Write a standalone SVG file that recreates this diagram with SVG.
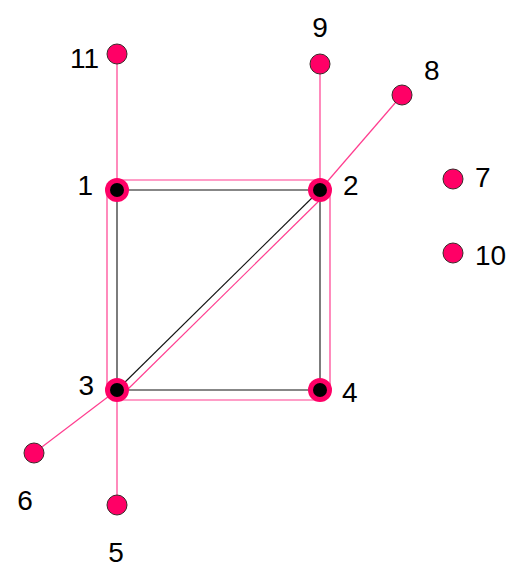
<svg xmlns="http://www.w3.org/2000/svg" width="508" height="569" viewBox="0 0 508 569">
<style>
.bl{stroke:#111;stroke-width:1.1;fill:none}
.pk{stroke:#FF3D8F;stroke-width:1.2;fill:none}
.ring{fill:#FF0066}
.core{fill:#000}
.sm{fill:#FF0066;stroke:#3a2a2a;stroke-width:1}
.lb{font-family:"Liberation Sans",Arial,sans-serif;font-size:28px;fill:#000}
</style>
<rect width="508" height="569" fill="#fff"/>
<g id="connectors">
<line class="bl" x1="117" y1="190" x2="320" y2="190"/>
<line class="bl" x1="320" y1="190" x2="320" y2="390"/>
<line class="bl" x1="320" y1="390" x2="117" y2="390"/>
<line class="bl" x1="117" y1="390" x2="117" y2="190"/>
<line class="bl" x1="117" y1="390" x2="320" y2="190"/>
<line class="pk" x1="117" y1="180" x2="320" y2="180"/>
<line class="pk" x1="330" y1="190" x2="330" y2="390"/>
<line class="pk" x1="320" y1="400" x2="117" y2="400"/>
<line class="pk" x1="107" y1="390" x2="107" y2="190"/>
<line class="pk" x1="122" y1="395" x2="325" y2="195"/>
<line class="pk" x1="117" y1="54" x2="117" y2="190"/>
<line class="pk" x1="320" y1="64" x2="320" y2="190"/>
<line class="pk" x1="402" y1="95" x2="320" y2="190"/>
<line class="pk" x1="34" y1="453" x2="117" y2="390"/>
<line class="pk" x1="117" y1="505" x2="117" y2="390"/>
</g>
<g id="node1"><circle class="ring" cx="117" cy="190" r="12"/><circle class="core" cx="117" cy="190" r="7"/><text class="lb" x="93" y="195" text-anchor="end">1</text></g>
<g id="node2"><circle class="ring" cx="320" cy="190" r="12"/><circle class="core" cx="320" cy="190" r="7"/><text class="lb" x="343" y="195">2</text></g>
<g id="node3"><circle class="ring" cx="117" cy="390" r="12"/><circle class="core" cx="117" cy="390" r="7"/><text class="lb" x="94" y="395" text-anchor="end">3</text></g>
<g id="node4"><circle class="ring" cx="320" cy="390" r="12"/><circle class="core" cx="320" cy="390" r="7"/><text class="lb" x="342" y="402">4</text></g>
<g id="node5"><circle class="sm" cx="117" cy="505" r="10"/><text class="lb" x="116" y="562" text-anchor="middle">5</text></g>
<g id="node6"><circle class="sm" cx="34" cy="453" r="10"/><text class="lb" x="25" y="510" text-anchor="middle">6</text></g>
<g id="node7"><circle class="sm" cx="453" cy="179" r="10"/><text class="lb" x="475" y="187">7</text></g>
<g id="node8"><circle class="sm" cx="402" cy="95" r="10"/><text class="lb" x="424" y="80">8</text></g>
<g id="node9"><circle class="sm" cx="320" cy="64" r="10"/><text class="lb" x="320" y="37" text-anchor="middle">9</text></g>
<g id="node10"><circle class="sm" cx="453" cy="253" r="10"/><text class="lb" x="475" y="265">10</text></g>
<g id="node11"><circle class="sm" cx="117" cy="54" r="10"/><text class="lb" x="99" y="68" text-anchor="end">11</text></g>
</svg>
